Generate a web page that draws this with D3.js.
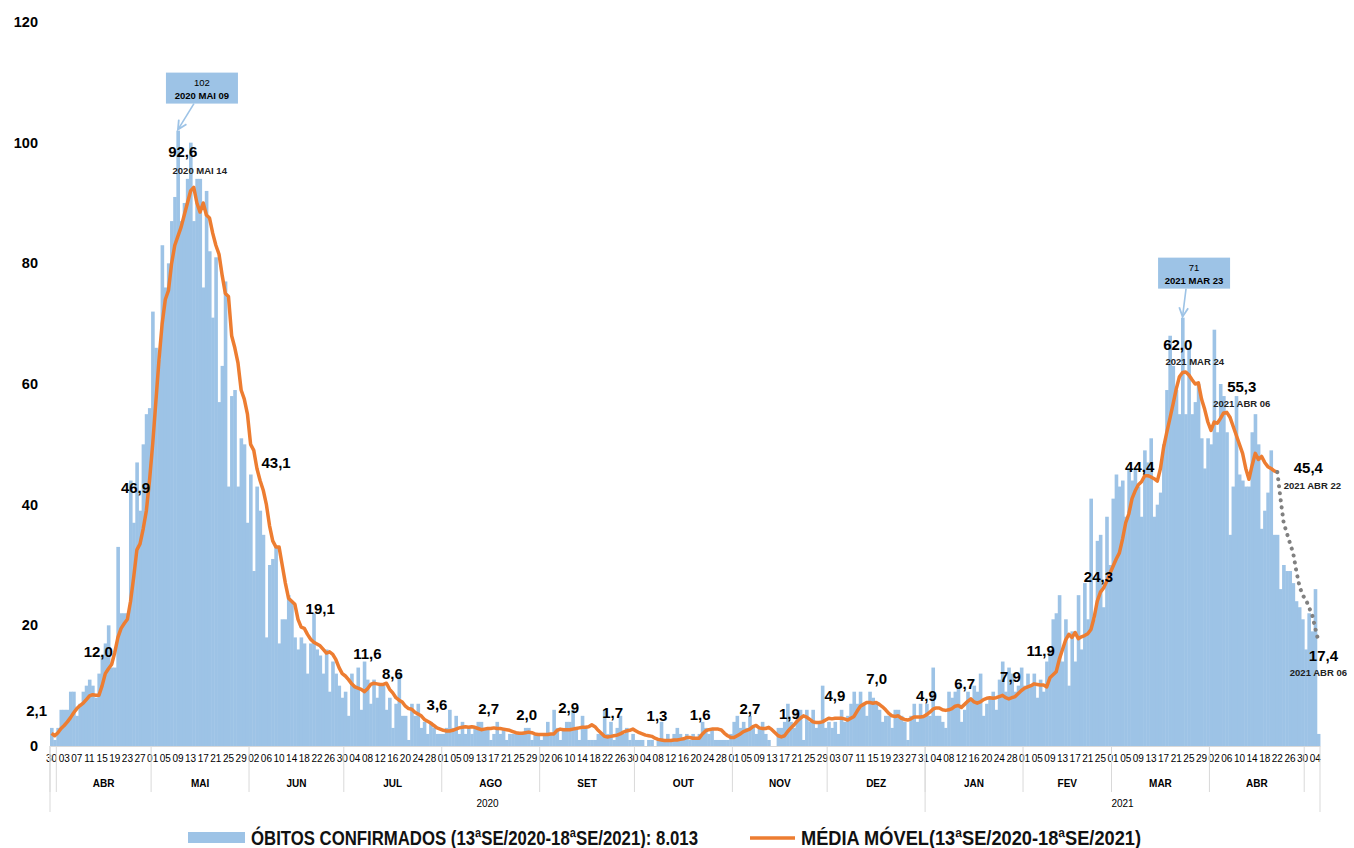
<!DOCTYPE html>
<html>
<head>
<meta charset="utf-8">
<script src="https://cdn.jsdelivr.net/npm/d3@7"></script>
<style>
  body { margin: 0; background: #fff; }
  text { font-family: 'Liberation Sans', Arial, sans-serif; fill: #000; }
</style>
</head>
<body>
<svg id="chart" width="1354" height="848"></svg>
<script>
// ---- Data ----
var firstDay = new Date(2020, 2, 30); // 30 MAR 2020, first bar

// Daily confirmed deaths, one value per day from 30/03/2020 to 05/05/2021
var obitos = [
  3,1,3,6,6,6,9,9,5,7,9,10,11,10,8,12,15,17,20,13,13,33,22,22,22,44,37,47,39,50,55,56,
  72,66,64,83,76,80,87,91,102,87,90,94,100,87,94,94,76,92,82,71,81,57,63,77,43,58,59,43,51,50,37,
  45,29,43,39,35,18,30,31,33,17,21,21,25,24,18,16,18,17,12,17,22,16,15,12,16,9,14,12,10,8,
  9,5,12,10,13,6,14,11,7,11,8,10,10,6,8,3,7,12,5,5,1,7,5,7,3,4,2,4,3,2,2,2,3,6,3,5,2,4,2,3,2,3,4,4,3,3,1,2,4,2,3,1,2,2,
  2,2,2,3,3,1,2,2,1,2,4,2,6,3,1,3,4,4,6,3,1,5,3,1,1,1,2,2,6,2,4,1,3,5,2,3,1,2,1,1,1,0,1,1,0,1,4,1,2,1,2,3,2,1,
  2,1,2,1,2,4,3,2,3,1,1,1,1,1,2,4,5,3,4,3,5,3,2,3,4,2,1,0,0,3,3,4,7,4,3,6,6,1,6,4,6,3,4,10,3,4,3,4,2,6,4,5,7,9,7,9,7,
  5,9,8,7,6,4,5,5,3,6,6,5,4,1,5,7,4,7,5,7,5,13,5,5,4,3,9,8,9,10,4,6,9,8,10,9,12,5,7,8,9,6,11,14,9,13,12,
  9,10,13,10,12,10,12,8,11,9,14,16,21,22,25,14,21,10,19,14,25,16,27,21,41,21,34,35,23,38,30,41,45,43,44,38,46,
  44,46,43,38,49,47,51,38,40,42,50,59,68,63,59,55,71,55,66,55,57,60,51,46,51,50,69,52,60,58,52,
  35,43,58,45,44,43,43,52,55,50,36,39,42,49,35,35,26,30,29,29,27,24,23,21,16,22,19,26,2
];

// Moving average (solid orange), from 30/03/2020 to 22/04/2021
var mediaMovel = [
  2.1,1.7,2.2,2.9,3.4,4.0,4.7,5.5,6.2,6.7,7.1,7.7,8.3,8.5,8.4,8.4,10.0,12.0,12.8,13.5,15.5,18.0,19.5,20.3,21.0,24.0,28.0,32.5,33.5,36.0,39.0,44.0,
  50,57,64,70,74,75.5,80,83,84.5,86,88,90,92,92.6,90,88.5,90,88,87.5,85,83,81.5,78,75,74.5,68,66,63.5,59,57.5,55,
  50,49,46,44,42.4,40,36.5,34,33,33,30,27,24.5,24,23.5,21,19.7,19.5,18.5,17.7,17.2,16.9,16.6,16,15.4,15.6,15.2,14.3,13,12,
  11.6,11,10.3,9.8,9.6,9.4,9.0,9.5,10.2,10.4,10.3,10.2,10.2,10.4,9.4,8.8,8,7.6,7.3,6.6,6.2,6.1,5.6,5.3,5.0,4.4,4.1,3.8,3.4,3.0,2.8,2.6,2.5,2.5,2.6,2.8,3.0,3.1,3.2,3.1,3.2,3.1,2.9,2.7,2.8,2.9,2.9,3.0,2.9,2.9,2.8,2.7,2.6,2.4,
  2.2,2.1,2.1,2.2,2.3,2.2,2.0,1.9,1.9,1.9,1.9,2.0,2.0,2.6,2.8,2.7,2.7,2.7,2.8,2.9,3.0,3.1,3.1,3.2,3.5,3.2,2.6,2.1,1.6,1.5,1.6,1.7,1.8,2.0,2.3,2.5,2.6,2.8,2.5,2.2,2.0,1.8,1.7,1.6,1.3,1.1,1.0,0.9,0.9,0.9,1.0,1.0,1.1,1.2,1.4,1.4,1.3,1.3,
  1.3,2.0,2.5,2.7,2.8,2.8,2.8,2.65,2.1,1.7,1.4,1.4,1.7,2.0,2.4,2.6,2.8,3.2,3.4,3.0,2.9,2.9,3.1,2.7,2.2,1.7,1.5,1.7,2.4,3.0,3.5,4.1,4.6,5.0,4.8,4.4,4.0,3.9,3.9,4.0,4.3,4.6,4.5,4.6,4.6,4.6,4.5,4.3,4.6,4.9,5.8,6.6,6.9,7.2,7.2,7.1,
  7.2,6.9,6.5,6.0,5.4,5.0,4.9,5.0,4.6,4.4,4.3,4.5,4.8,4.8,4.8,4.9,5.2,5.6,6.1,6.3,6.3,6.0,5.9,6.0,6.2,6.6,6.7,6.4,6.9,7.4,7.8,7.3,7.1,7.3,7.7,7.9,8.0,7.9,8.0,8.2,8.4,8.0,7.8,8.0,
  8.2,8.7,9.2,9.6,9.8,10.0,10.3,10.2,10.1,10.1,9.8,11.3,11.8,12.3,14.4,16,17.6,18.5,18.0,18.8,17.8,18.1,18.3,18.6,19.3,21.3,24,25.5,26.2,27.3,28.6,29.8,31,32,34.3,37,38.5,
  41,42.3,43.3,43.8,44.8,44.8,44.6,44.3,43.9,46,49.5,52,54.3,56.7,59.2,61.2,61.9,62.0,61.5,60.7,60,60.2,57.5,55.8,53.7,52.3,53.7,53.5,54.3,55.2,55.3,
  54.5,53,51.5,50,48.5,46,44.2,46.5,48.5,47.5,48,47,46.3,46,45.6,45.4
];

// Provisional moving average (grey dots), from 22/04/2021 to 05/05/2021
var mediaProvisoria = [45.4,41,37,35.3,33.6,32,29,26.5,25,24.3,23,21.8,19.5,17.4];

var yTicks = [0, 20, 40, 60, 80, 100, 120];
var monthNames = ["JAN","FEV","MAR","ABR","MAI","JUN","JUL","AGO","SET","OUT","NOV","DEZ"];

// Value labels on the moving average: day index, value, text, optional date
var valueLabels = [
  { day: 0,   value: 2.1,  text: "2,1" },
  { day: 17,  value: 12.0, text: "12,0" },
  { day: 31,  value: 46.9, text: "46,9" },
  { day: 45,  value: 92.6, text: "92,6", date: "2020 MAI 14" },
  { day: 66,  value: 43.1, text: "43,1" },
  { day: 79,  value: 19.1, text: "19,1" },
  { day: 93,  value: 11.6, text: "11,6" },
  { day: 106, value: 8.6,  text: "8,6" },
  { day: 122, value: 3.6,  text: "3,6" },
  { day: 139, value: 2.7,  text: "2,7" },
  { day: 151, value: 2.0,  text: "2,0" },
  { day: 164, value: 2.9,  text: "2,9" },
  { day: 176, value: 1.7,  text: "1,7" },
  { day: 191, value: 1.3,  text: "1,3" },
  { day: 205, value: 1.6,  text: "1,6" },
  { day: 222, value: 2.7,  text: "2,7" },
  { day: 231, value: 1.9,  text: "1,9" },
  { day: 247, value: 4.9,  text: "4,9" },
  { day: 258, value: 7.0,  text: "7,0" },
  { day: 275, value: 4.9,  text: "4,9" },
  { day: 289, value: 6.7,  text: "6,7" },
  { day: 301, value: 7.9,  text: "7,9" },
  { day: 314, value: 11.9, text: "11,9" },
  { day: 332, value: 24.3, text: "24,3" },
  { day: 346, value: 44.4, text: "44,4" },
  { day: 359, value: 62.0, text: "62,0", date: "2021 MAR 24" },
  { day: 372, value: 55.3, text: "55,3", date: "2021 ABR 06" },
  { day: 388, value: 45.4, text: "45,4", date: "2021 ABR 22" },
  { day: 401, value: 17.4, text: "17,4", date: "2021 ABR 06" }
];

// Callouts on the highest bars
var callouts = [
  { day: 40,  value: 102, lines: ["102", "2020 MAI 09"] },
  { day: 358, value: 71,  lines: ["71", "2021 MAR 23"] }
];

var legendLabels = ["ÓBITOS CONFIRMADOS (13ªSE/2020-18ªSE/2021): 8.013", "MÉDIA MÓVEL(13ªSE/2020-18ªSE/2021)"];

// ---- Layout ----
var plot = { left: 50, right: 1320, top: 22, bottom: 746 };
var barColor = "#9DC3E6", lineColor = "#ED7D31", dotColor = "#808080", gridColor = "#D9D9D9";
var narrow = "'Liberation Sans Narrow', 'Arial Narrow', 'Liberation Sans', sans-serif";

// label offsets (px) from the anchor point: [dx, dy] for value, [dx, dy] for date
var labelOffsets = [
  [-15,-17], [-7,-17], [-14,30], [-11,-30,6,-13], [16,-18], [19,-17], [22,-17], [6,-15], [0,-14],
  [-2,-16], [-2,-14], [-1,-16], [5,-18], [2,-17], [1,-16], [-3,-16], [8,-16], [3,-15], [10,-20],
  [6,-15], [0,-17], [8,-16], [-3,-18], [-2,-17], [-5,-6], [-8,-22,9,-7], [15,-20,15,-5], [31,1,35,17], [5,20,0,35]
];
var calloutOffsets = [[24,-43], [11.5,-45]];

var svg = d3.select("#chart");

var days = d3.range(obitos.length);
var dateOf = function (i) { return d3.timeDay.offset(firstDay, i); };

var x = d3.scaleBand()
    .domain(days)
    .range([plot.left, plot.right])
    .padding(0);
var bw = x.bandwidth();
var cx = function (i) { return x(i) + bw / 2; };

var y = d3.scaleLinear()
    .domain([0, 120])
    .range([plot.bottom, plot.top]);

// Bars
svg.append("g")
  .selectAll("rect")
  .data(obitos)
  .enter().append("rect")
    .attr("x", function (d, i) { return x(i); })
    .attr("y", function (d) { return y(d); })
    .attr("width", bw + 0.45)
    .attr("height", function (d) { return y(0) - y(d); })
    .attr("fill", barColor);

// Y axis (labels only)
var yAxis = svg.append("g")
    .attr("transform", "translate(38,0)")
    .call(d3.axisLeft(y).tickValues(yTicks).tickSize(0).tickPadding(0));
yAxis.select(".domain").remove();
yAxis.selectAll("text")
    .style("font-family", "'Liberation Sans', Arial, sans-serif")
    .style("font-size", "14.5px")
    .style("font-weight", "bold")
    .attr("fill", "#000");

// X axis: day numbers every 4 days
var xAxis = svg.append("g")
    .attr("transform", "translate(0," + plot.bottom + ")")
    .call(d3.axisBottom(x)
      .tickValues(days.filter(function (i) { return i % 4 === 0; }))
      .tickSize(0)
      .tickPadding(9)
      .tickFormat(function (i) { return d3.timeFormat("%d")(dateOf(i)); }));
xAxis.select(".domain").attr("stroke", gridColor).attr("stroke-width", 1);
xAxis.selectAll("text")
    .style("font-family", narrow)
    .style("font-size", "10px")
    .attr("fill", "#000");

// Month and year groups for the two lower category rows
var months = d3.groups(days, function (i) { return d3.timeFormat("%Y-%m")(dateOf(i)); });
var years = d3.groups(days, function (i) { return dateOf(i).getFullYear(); });

var cat = svg.append("g");
months.forEach(function (m) {
  var first = m[1][0], last = m[1][m[1].length - 1];
  cat.append("line")
    .attr("x1", x(first)).attr("x2", x(first))
    .attr("y1", plot.bottom).attr("y2", plot.bottom + 46)
    .attr("stroke", gridColor);
  if (m[1].length >= 10) { // short months at both ends carry no label
    cat.append("text")
      .attr("x", (x(first) + x(last) + bw) / 2)
      .attr("y", plot.bottom + 41)
      .attr("text-anchor", "middle")
      .style("font-family", narrow)
      .style("font-size", "10px")
      .style("font-weight", "bold")
      .text(monthNames[dateOf(first).getMonth()]);
  }
});
years.forEach(function (yr) {
  var first = yr[1][0], last = yr[1][yr[1].length - 1];
  cat.append("line")
    .attr("x1", x(first)).attr("x2", x(first))
    .attr("y1", plot.bottom).attr("y2", plot.bottom + 66)
    .attr("stroke", gridColor);
  cat.append("text")
    .attr("x", (x(first) + x(last) + bw) / 2)
    .attr("y", plot.bottom + 61)
    .attr("text-anchor", "middle")
    .style("font-family", narrow)
    .style("font-size", "10px")
    .text(yr[0]);
});
cat.append("line")
    .attr("x1", plot.right).attr("x2", plot.right)
    .attr("y1", plot.bottom).attr("y2", plot.bottom + 66)
    .attr("stroke", gridColor);

// Moving average line
var line = d3.line()
    .x(function (d, i) { return cx(i); })
    .y(function (d) { return y(d); });

svg.append("path")
    .datum(mediaMovel)
    .attr("fill", "none")
    .attr("stroke", lineColor)
    .attr("stroke-width", 3.5)
    .attr("stroke-linejoin", "round")
    .attr("d", line);

// Provisional part, dotted
var offset = mediaMovel.length - 1;
svg.append("path")
    .datum(mediaProvisoria)
    .attr("fill", "none")
    .attr("stroke", dotColor)
    .attr("stroke-width", 4)
    .attr("stroke-linecap", "round")
    .attr("stroke-dasharray", "0.1 7")
    .attr("d", d3.line()
      .x(function (d, i) { return cx(i + offset); })
      .y(function (d) { return y(d); }));

// Value labels
var labels = svg.append("g");
valueLabels.forEach(function (d, k) {
  var o = labelOffsets[k];
  labels.append("text")
    .attr("x", cx(d.day) + o[0])
    .attr("y", y(d.value) + o[1])
    .attr("text-anchor", "middle")
    .style("font-size", "15px")
    .style("font-weight", "bold")
    .text(d.text);
  if (d.date) {
    labels.append("text")
      .attr("x", cx(d.day) + o[2])
      .attr("y", y(d.value) + o[3])
      .attr("text-anchor", "middle")
      .style("font-size", "9.5px")
      .style("font-weight", "bold")
      .style("fill", "#222")
      .text(d.date);
  }
});

// Callouts with arrow to the bar
svg.append("defs").append("marker")
    .attr("id", "arrow")
    .attr("viewBox", "0 0 10 10")
    .attr("refX", 9).attr("refY", 5)
    .attr("markerWidth", 7).attr("markerHeight", 7)
    .attr("orient", "auto")
  .append("path")
    .attr("d", "M1,1 L9,5 L1,9")
    .attr("fill", "none")
    .attr("stroke", barColor)
    .attr("stroke-width", 1.6);

callouts.forEach(function (c, k) {
  var o = calloutOffsets[k];
  var bx = cx(c.day) + o[0], by = y(c.value) + o[1];
  var g = svg.append("g");
  g.append("rect")
    .attr("x", bx - 36).attr("y", by - 15)
    .attr("width", 72).attr("height", 31)
    .attr("fill", barColor);
  g.append("line")
    .attr("x1", bx - 8).attr("y1", by + 16)
    .attr("x2", cx(c.day)).attr("y2", y(c.value) - 1)
    .attr("stroke", barColor)
    .attr("stroke-width", 1.6)
    .attr("marker-end", "url(#arrow)");
  g.append("text")
    .attr("x", bx).attr("y", by - 2)
    .attr("text-anchor", "middle")
    .style("font-size", "9.5px")
    .text(c.lines[0]);
  g.append("text")
    .attr("x", bx).attr("y", by + 11)
    .attr("text-anchor", "middle")
    .style("font-size", "9.5px")
    .style("font-weight", "bold")
    .text(c.lines[1]);
});

// Legend
var legend = svg.append("g").attr("transform", "translate(0,838)");
legend.append("rect")
    .attr("x", 188).attr("y", -6)
    .attr("width", 57).attr("height", 11)
    .attr("fill", barColor);
legend.append("text")
    .attr("x", 251).attr("y", 7)
    .attr("textLength", 447)
    .attr("lengthAdjust", "spacingAndGlyphs")
    .style("font-family", narrow)
    .style("font-size", "20px")
    .style("font-weight", "bold")
    .style("fill", "#111")
    .text(legendLabels[0]);
legend.append("line")
    .attr("x1", 750).attr("x2", 795)
    .attr("y1", 0).attr("y2", 0)
    .attr("stroke", lineColor)
    .attr("stroke-width", 3.5);
legend.append("text")
    .attr("x", 801).attr("y", 7)
    .attr("textLength", 340)
    .attr("lengthAdjust", "spacingAndGlyphs")
    .style("font-family", narrow)
    .style("font-size", "20px")
    .style("font-weight", "bold")
    .style("fill", "#111")
    .text(legendLabels[1]);
</script>
</body>
</html>
